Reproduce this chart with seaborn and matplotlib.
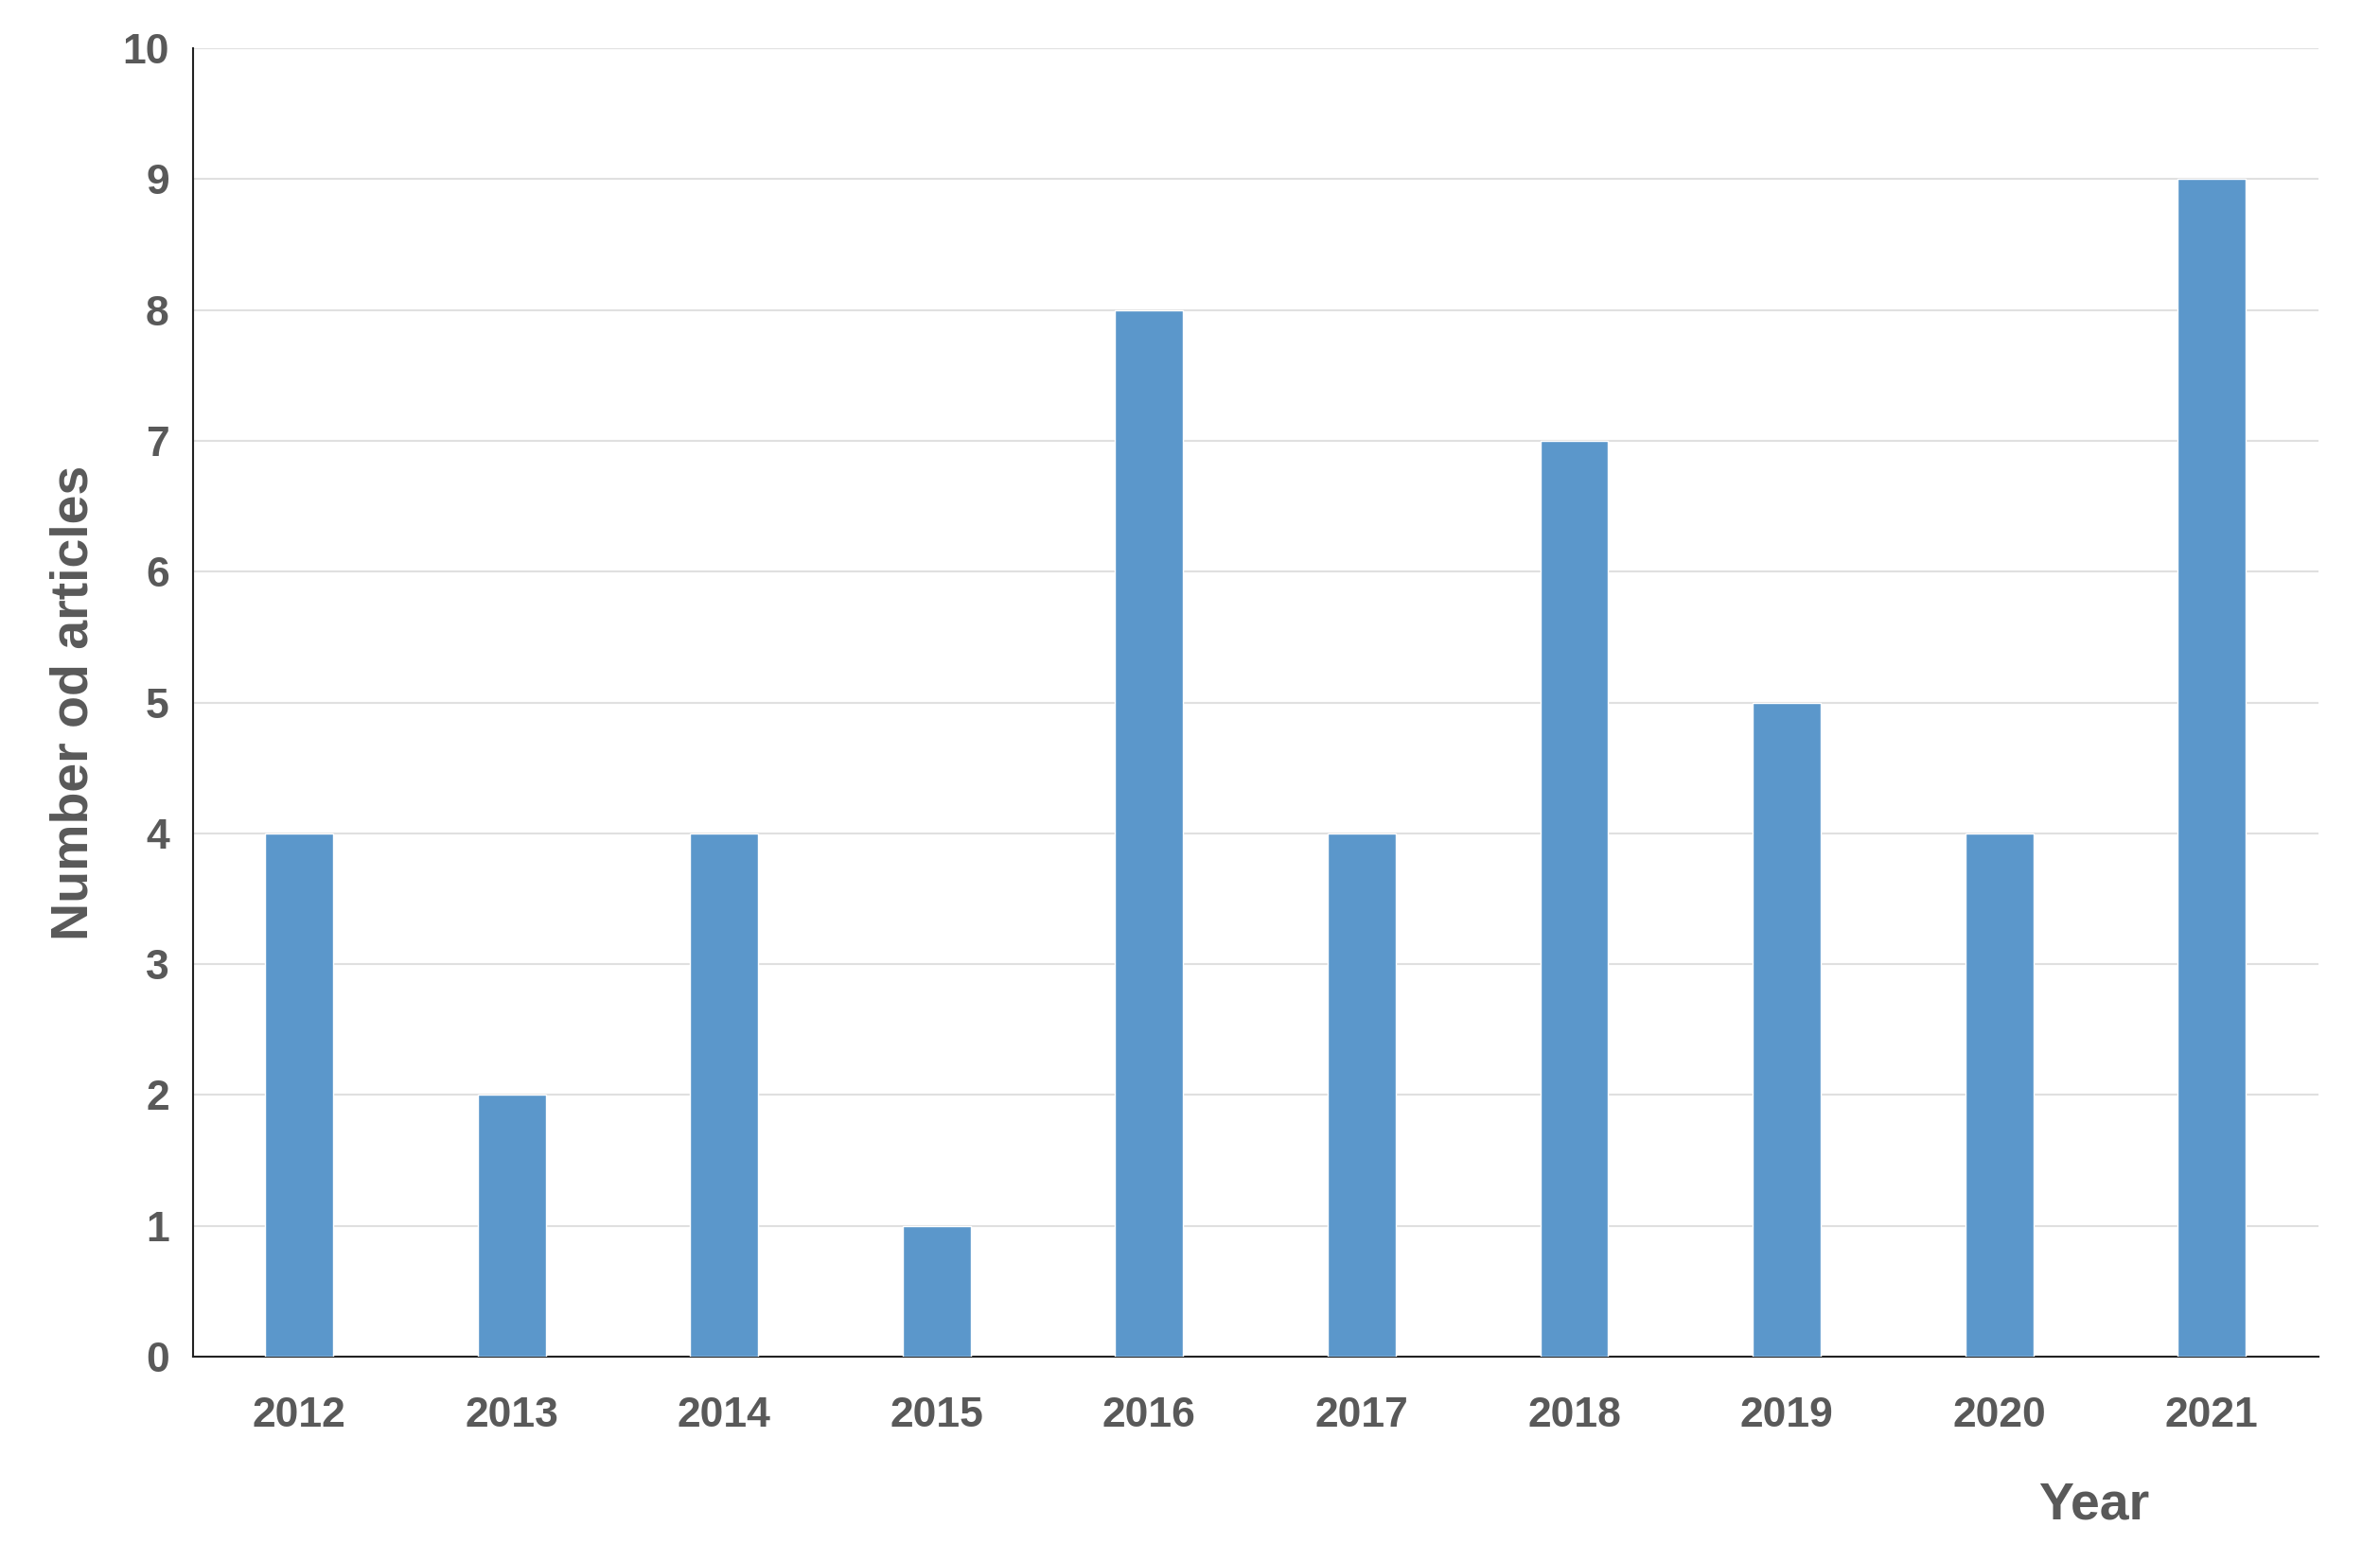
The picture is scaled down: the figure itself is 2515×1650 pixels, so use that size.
import matplotlib
matplotlib.use('Agg')
import matplotlib.pyplot as plt
import seaborn as sns
import pandas as pd

years = ['2012', '2013', '2014', '2015', '2016', '2017', '2018', '2019', '2020', '2021']
articles = [4, 2, 4, 1, 8, 4, 7, 5, 4, 9]

sns.set_style('white')
plt.rcParams['font.family'] = ['Liberation Sans', 'DejaVu Sans']

TEXT = '#595959'
df = pd.DataFrame({'Year': years, 'Articles': articles})

fig = plt.figure(figsize=(25.15, 16.5), dpi=100)
ax = fig.add_axes([0.081, 0.131, 0.893, 0.838])
sns.barplot(data=df, x='Year', y='Articles', color='#5B97CB', width=0.32,
            saturation=1, ax=ax, zorder=3)

ax.set_ylim(0, 10)
ax.set_yticks(range(0, 11))
ax.set_xlim(-0.5, 9.5)
ax.yaxis.grid(True, color='#E0E0E0', linewidth=1.5, zorder=0)
ax.set_axisbelow(True)
for s in ['top', 'right']:
    ax.spines[s].set_visible(False)
for s in ['left', 'bottom']:
    ax.spines[s].set_color('#222222')
    ax.spines[s].set_linewidth(1.5)
ax.tick_params(axis='both', length=0, labelsize=32, labelcolor=TEXT, pad=18)
for lbl in ax.get_xticklabels() + ax.get_yticklabels():
    lbl.set_fontweight('bold')
ax.tick_params(axis='x', pad=30)

ax.set_xlabel('')
ax.set_ylabel('Number od articles', fontsize=40, fontweight='bold', color=TEXT, labelpad=18)
fig.text(0.88, 0.027, 'Year', fontsize=40, fontweight='bold', color=TEXT, ha='center')

fig.savefig('out.png', dpi=100)
